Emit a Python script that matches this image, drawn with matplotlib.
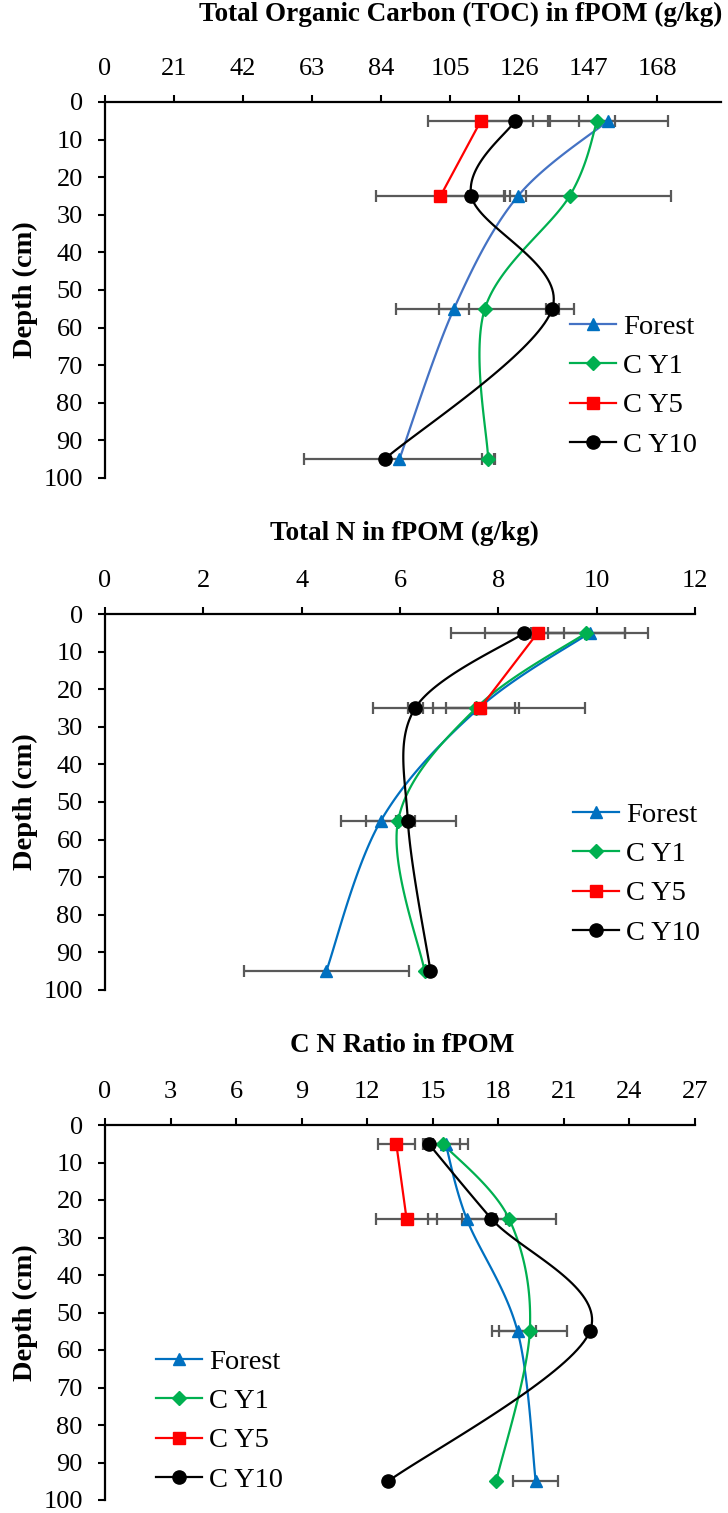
import numpy as np
import matplotlib
matplotlib.use("Agg")
import matplotlib.pyplot as plt
from matplotlib.lines import Line2D

plt.rcParams['font.family'] = ['Liberation Serif', 'DejaVu Serif']

# Depths of the sampled layers (cm)
depth = [5, 25, 55, 95]
depth_y5 = [5, 25]
series_names = ['Forest', 'C Y1', 'C Y5', 'C Y10']

# Total organic carbon in fPOM (g/kg) and standard errors
toc_forest = [153.1, 125.7, 106.2, 89.6]
toc_cy1 = [149.8, 141.4, 115.6, 116.6]
toc_cy5 = [114.4, 102.1]
toc_cy10 = [124.8, 111.5, 136.1, 85.1]
toc_forest_err = [18.2, 2.5, 4.7, 29.0]
toc_cy1_err = [5.5, 30.8, 27.0, 1.9]
toc_cy5_err = [16.0, 19.5]
toc_cy10_err = [10.7, 9.8, 2.0, 0.0]

# Total N in fPOM (g/kg)
tn_forest = [9.86, 7.61, 5.61, 4.50]
tn_cy1 = [9.79, 7.55, 5.96, 6.50]
tn_cy5 = [8.80, 7.63]
tn_cy10 = [8.53, 6.31, 6.16, 6.62]
tn_forest_err = [1.19, 2.16, 0.30, 1.68]
tn_cy1_err = [0.78, 0.88, 1.17, 0.0]
tn_cy5_err = [1.77, 0.70]
tn_cy10_err = [0.80, 0.15, 0.15, 0.0]

# C:N ratio in fPOM
cn_forest = [15.59, 16.55, 18.88, 19.71]
cn_cy1 = [15.46, 18.49, 19.44, 17.90]
cn_cy5 = [13.33, 13.80]
cn_cy10 = [14.81, 17.68, 22.19, 12.96]
cn_forest_err = [1.02, 1.79, 0.85, 1.02]
cn_cy1_err = [0.78, 2.13, 1.72, 0.0]
cn_cy5_err = [0.85, 1.39]
cn_cy10_err = [0.2, 0.2, 0.0, 0.0]

W, H = 728, 1513
fig = plt.figure(figsize=(W / 100, H / 100), dpi=100)

blue_line = ['#4472C4', '#0070C0', '#0070C0']
colors = ['#0070C0', '#00B050', '#FF0000', '#000000']
markers = ['^', 'D', 's', 'o']
msizes = [9, 7, 9, 9.5]
err_col = '#595959'


def smooth(xs, ys, sx, sy, n=40):
    # Catmull-Rom style Bezier smoothing done in pixel space (like Excel)
    px = np.array(xs) * sx
    py = np.array(ys) * sy
    if len(px) < 3:
        return list(xs), list(ys)
    P = np.column_stack([px, py])
    P = np.vstack([P[0], P, P[-1]])
    out = []
    for i in range(1, len(P) - 2):
        p0, p1, p2, p3 = P[i - 1], P[i], P[i + 1], P[i + 2]
        c1 = p1 + (p2 - p0) / 6.0
        c2 = p2 - (p3 - p1) / 6.0
        t = np.linspace(0, 1, n)[:, None]
        seg = ((1 - t) ** 3) * p1 + 3 * ((1 - t) ** 2) * t * c1 + 3 * (1 - t) * t ** 2 * c2 + t ** 3 * p2
        out.append(seg if i == 1 else seg[1:])
    out = np.vstack(out)
    return out[:, 0] / sx, out[:, 1] / sy


def panel(rect_px, xmax, ticks, title, title_xy, data, errs, leg_xy, idx):
    l, t, r, b = rect_px
    ax = fig.add_axes([l / W, 1 - b / H, (r - l) / W, (b - t) / H])
    ax.set_xlim(0, xmax)
    ax.set_ylim(100, 0)
    sx = (r - l) / xmax
    sy = (b - t) / 100.0
    for k in range(4):
        xs = data[k]
        ds = depth if len(xs) == 4 else depth_y5
        lc = blue_line[idx] if k == 0 else colors[k]
        ax.errorbar(xs, ds, xerr=errs[k], fmt='none', ecolor=err_col,
                    elinewidth=1.6, capsize=4.2, capthick=1.6, zorder=2)
        cx, cy = smooth(xs, ds, sx, sy)
        ax.plot(cx, cy, color=lc, lw=1.6, zorder=3)
        ax.plot(xs, ds, linestyle='none', marker=markers[k], ms=msizes[k],
                color=colors[k], zorder=4)
    ax.xaxis.tick_top()
    ax.set_xticks(ticks)
    ax.set_yticks(np.arange(0, 101, 10))
    ax.tick_params(axis='both', direction='out', length=5, width=1.5,
                   labelsize=19, pad=11, color='black')
    for s in ['right', 'bottom']:
        ax.spines[s].set_visible(False)
    for s in ['top', 'left']:
        ax.spines[s].set_linewidth(1.6)
    fig.text(title_xy[0] / W, 1 - title_xy[1] / H, title, ha='center', va='center',
             fontsize=19.5, fontweight='bold')
    fig.text(25 / W, 1 - (t + b) / 2 / H, 'Depth (cm)', rotation=90, ha='center',
             va='center', fontsize=20.5, fontweight='bold')
    handles = []
    for k in range(4):
        lc = blue_line[idx] if k == 0 else colors[k]
        handles.append(Line2D([], [], color=lc, lw=1.6, marker=markers[k],
                              ms=msizes[k], mfc=colors[k], mec=colors[k]))
    ax.legend(handles, series_names, loc='center left',
              bbox_to_anchor=(leg_xy[0] / W, 1 - leg_xy[1] / H),
              bbox_transform=fig.transFigure, frameon=False, fontsize=20.5,
              handlelength=1.6, handletextpad=0.25, labelspacing=0.46,
              borderpad=0, borderaxespad=0)
    return ax


# TOC axis runs a bit past its last labelled tick (168)
toc_px_per_unit = 69.0 / 21
panel((105, 102, 721, 478), (721 - 105) / toc_px_per_unit, np.arange(0, 169, 21),
      'Total Organic Carbon (TOC) in fPOM (g/kg)', (461, 14),
      [toc_forest, toc_cy1, toc_cy5, toc_cy10],
      [toc_forest_err, toc_cy1_err, toc_cy5_err, toc_cy10_err], (570, 386), 0)

panel((105, 614, 695, 990), 12, np.arange(0, 13, 2),
      'Total N in fPOM (g/kg)', (404, 533),
      [tn_forest, tn_cy1, tn_cy5, tn_cy10],
      [tn_forest_err, tn_cy1_err, tn_cy5_err, tn_cy10_err], (573, 874), 1)

panel((105, 1125, 695, 1500), 27, np.arange(0, 28, 3),
      'C N Ratio in fPOM', (402, 1045),
      [cn_forest, cn_cy1, cn_cy5, cn_cy10],
      [cn_forest_err, cn_cy1_err, cn_cy5_err, cn_cy10_err], (156, 1421), 2)

fig.savefig('out.png', dpi=100)
